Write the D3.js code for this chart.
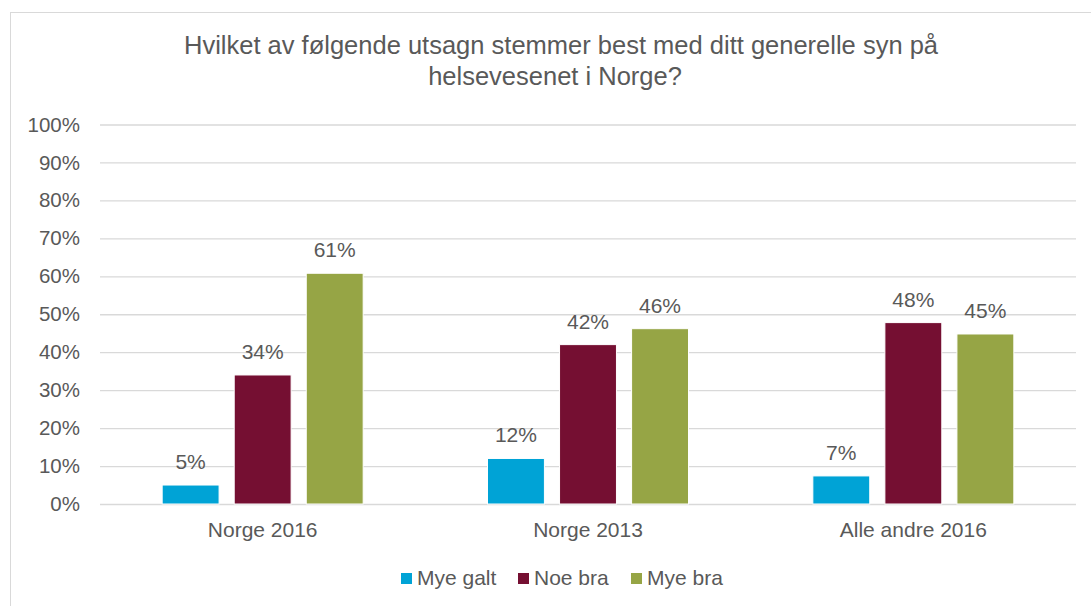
<!DOCTYPE html>
<html>
<head>
<meta charset="utf-8">
<script src="https://cdn.jsdelivr.net/npm/d3@7"></script>
<style>
  body { margin: 0; background: #fff; }
  text { font-family: "Liberation Sans", Arial, sans-serif; fill: #595959; }
</style>
</head>
<body>
<div id="chart"></div>
<script>
// data
var categories = ["Norge 2016", "Norge 2013", "Alle andre 2016"];
var seriesNames = ["Mye galt", "Noe bra", "Mye bra"];
var myeGalt = [0.05, 0.12, 0.074];
var noeBra = [0.34, 0.42, 0.478];
var myeBra = [0.608, 0.462, 0.448];
var yTicks = [0, 0.1, 0.2, 0.3, 0.4, 0.5, 0.6, 0.7, 0.8, 0.9, 1];
var colors = ["#00A3D6", "#750F32", "#96A545"];

var svgWidth = 1091;
var svgHeight = 606;

var plot = { left: 100, right: 1076, top: 124.5, bottom: 504 };

var svg = d3.select("#chart")
  .append("svg")
  .attr("width", svgWidth)
  .attr("height", svgHeight);

// chart frame
svg.append("rect")
  .attr("x", 10.5)
  .attr("y", 12.5)
  .attr("width", 1110)
  .attr("height", 620)
  .attr("fill", "none")
  .attr("stroke", "#d9d9d9");

// title
var title = svg.append("text")
  .attr("text-anchor", "middle")
  .style("font-size", "25.5px");
title.append("tspan").attr("x", 561).attr("y", 54)
  .text("Hvilket av følgende utsagn stemmer best med ditt generelle syn på");
title.append("tspan").attr("x", 555).attr("y", 85)
  .text("helsevesenet i Norge?");

// scales
var x0 = d3.scaleBand()
  .domain(categories)
  .range([plot.left, plot.right]);

var groupWidth = 201;
var x1 = d3.scaleBand()
  .domain(seriesNames)
  .range([0, groupWidth])
  .paddingInner(0.21);

var yScale = d3.scaleLinear()
  .domain([0, 1])
  .range([plot.bottom, plot.top]);

// gridlines + y axis
var leftAxis = d3.axisLeft(yScale)
  .tickValues(yTicks)
  .tickFormat(d3.format(".0%"))
  .tickSize(-(plot.right - plot.left))
  .tickPadding(20);

var yAxis = svg.append("g")
  .attr("transform", `translate(${plot.left}, 0)`)
  .call(leftAxis);
yAxis.select(".domain").remove();
yAxis.selectAll("line").attr("stroke", "#d9d9d9").attr("stroke-width", 1.3);
yAxis.selectAll("text").style("font-size", "20.5px").attr("fill", "#595959");

// category axis
var bottomAxis = d3.axisBottom(x0).tickSize(0).tickPadding(18);
var xAxis = svg.append("g")
  .attr("transform", `translate(0, ${plot.bottom})`)
  .call(bottomAxis);
xAxis.select(".domain").remove();
xAxis.selectAll("text").style("font-size", "21px").attr("fill", "#595959");

// bars
var rows = categories.map(function(c, i) {
  return { cat: c, values: [myeGalt[i], noeBra[i], myeBra[i]] };
});

var offset = (x0.bandwidth() - groupWidth) / 2;

var groups = svg.selectAll(".group")
  .data(rows).enter()
  .append("g")
  .attr("class", "group")
  .attr("transform", d => `translate(${x0(d.cat) + offset}, 0)`);

groups.selectAll("rect")
  .data(d => d.values.map((v, j) => ({ name: seriesNames[j], value: v, idx: j })))
  .enter()
  .append("rect")
  .attr("x", d => x1(d.name))
  .attr("y", d => yScale(d.value))
  .attr("width", x1.bandwidth())
  .attr("height", d => yScale(0) - yScale(d.value))
  .attr("fill", d => colors[d.idx])
  .attr("stroke", "#ffffff")
  .attr("stroke-width", 1);

groups.selectAll(".lbl")
  .data(d => d.values.map((v, j) => ({ name: seriesNames[j], value: v })))
  .enter()
  .append("text")
  .attr("class", "lbl")
  .attr("x", d => x1(d.name) + x1.bandwidth() / 2)
  .attr("y", d => yScale(d.value) - 16)
  .attr("text-anchor", "middle")
  .style("font-size", "21px")
  .text(d => Math.round(d.value * 100) + "%");

// legend
var legendX = [401, 518, 631];
var legend = svg.selectAll(".legend")
  .data(seriesNames).enter()
  .append("g")
  .attr("class", "legend")
  .attr("transform", (d, i) => `translate(${legendX[i]}, 573)`);

legend.append("rect")
  .attr("width", 11)
  .attr("height", 11)
  .attr("fill", (d, i) => colors[i]);

legend.append("text")
  .attr("x", 16)
  .attr("y", 12)
  .style("font-size", "21px")
  .text(d => d);
</script>
</body>
</html>
